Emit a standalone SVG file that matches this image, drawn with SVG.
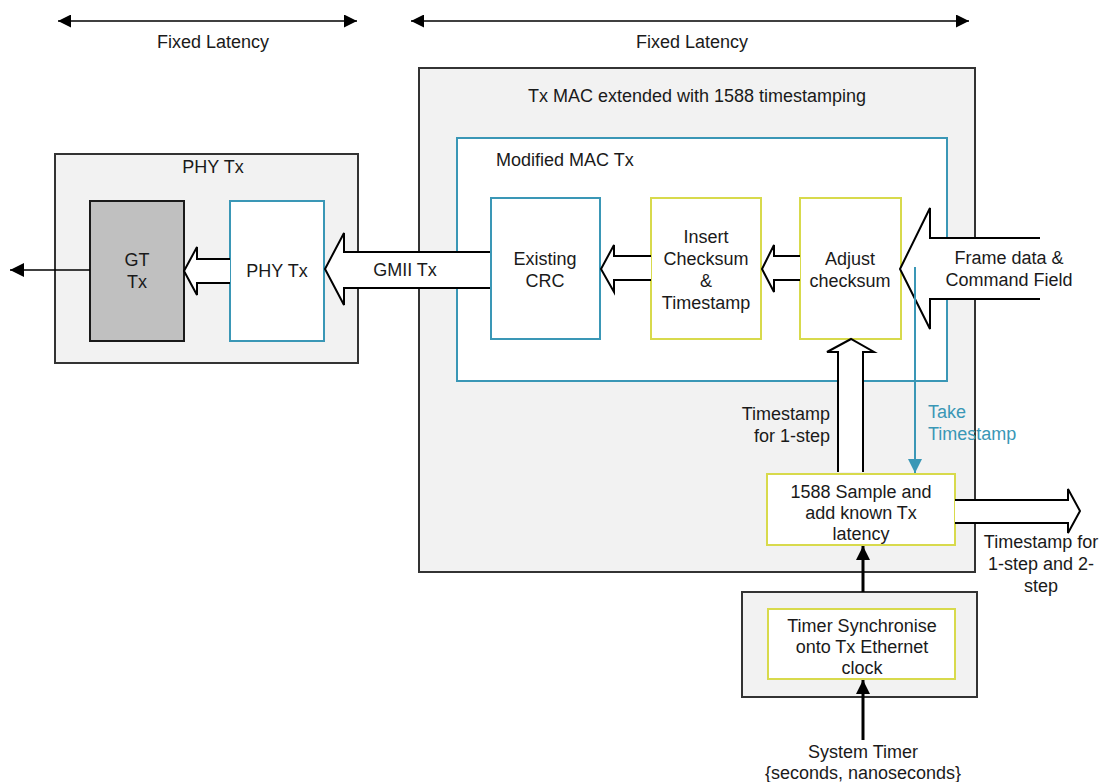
<svg xmlns="http://www.w3.org/2000/svg" width="1102" height="782" viewBox="0 0 1102 782">
<style>
text{font-family:"Liberation Sans",Arial,sans-serif;font-size:18px;fill:#1a1a1a}
.c{text-anchor:middle}
.cont{fill:#f2f2f2;stroke:#333;stroke-width:2}
.teal{fill:#fff;stroke:#3a97b6;stroke-width:2}
.yel{fill:#fff;stroke:#d8da4c;stroke-width:2}
.hollow{fill:#fff;stroke:none}
.hol{fill:none;stroke:#000;stroke-width:2}
.ln{fill:none;stroke:#000;stroke-width:1.5}
.thick{fill:none;stroke:#000;stroke-width:3}
.tl{fill:#3a97b6}
</style>
<defs>
<marker id="ah" viewBox="0 0 10 10" refX="10" refY="5" markerWidth="20" markerHeight="13" markerUnits="userSpaceOnUse" orient="auto-start-reverse"><path d="M0,0 L10,5 L0,10 Z" fill="#000"/></marker>
<marker id="ahs" viewBox="0 0 10 10" refX="10" refY="5" markerWidth="20" markerHeight="14" markerUnits="userSpaceOnUse" orient="auto"><path d="M0,0 L10,5 L0,10 Z" fill="#000"/></marker>
<marker id="aht" viewBox="0 0 10 10" refX="10" refY="5" markerWidth="18" markerHeight="14" markerUnits="userSpaceOnUse" orient="auto"><path d="M0,0 L10,5 L0,10 Z" fill="#3a97b6"/></marker>
</defs>
<g id="latency-left">
<line x1="58" y1="21" x2="357" y2="21" class="ln" marker-start="url(#ah)" marker-end="url(#ah)"/>
<text x="213" y="48" class="c">Fixed Latency</text>
</g>
<g id="latency-right">
<line x1="411" y1="21" x2="969" y2="21" class="ln" marker-start="url(#ah)" marker-end="url(#ah)"/>
<text x="692" y="48" class="c">Fixed Latency</text>
</g>
<g id="tx-mac">
<rect x="419" y="68" width="556" height="504" class="cont"/>
<text x="697" y="102" class="c">Tx MAC extended with 1588 timestamping</text>
</g>
<g id="modified-mac">
<rect x="457" y="138" width="490" height="243" class="teal"/>
<text x="496" y="166">Modified MAC Tx</text>
</g>
<g id="phy-outer">
<rect x="55" y="154" width="303" height="209" class="cont"/>
<text x="213" y="173" class="c">PHY Tx</text>
</g>
<g id="gt-tx">
<rect x="90" y="201" width="94" height="140" fill="#c0c0c0" stroke="#1a1a1a" stroke-width="2"/>
<text x="137" y="266" class="c">GT</text>
<text x="137" y="288" class="c">Tx</text>
</g>
<g id="phy-inner">
<rect x="230" y="201" width="94" height="140" class="teal"/>
<text x="277" y="277" class="c">PHY Tx</text>
</g>
<g id="existing-crc">
<rect x="491" y="198" width="109" height="141" class="teal"/>
<text x="545" y="265" class="c">Existing</text>
<text x="545" y="287" class="c">CRC</text>
</g>
<g id="insert">
<rect x="651" y="198" width="110" height="141" class="yel"/>
<text x="706" y="243" class="c">Insert</text>
<text x="706" y="265" class="c">Checksum</text>
<text x="706" y="287" class="c">&amp;</text>
<text x="706" y="309" class="c">Timestamp</text>
</g>
<g id="adjust">
<rect x="800" y="198" width="101" height="141" class="yel"/>
<text x="850" y="265" class="c">Adjust</text>
<text x="850" y="287" class="c">checksum</text>
</g>
<g id="sample">
<rect x="767" y="474" width="188" height="71" class="yel"/>
<text x="861" y="498" class="c">1588 Sample and</text>
<text x="861" y="519" class="c">add known Tx</text>
<text x="861" y="540" class="c">latency</text>
</g>
<g id="timer-outer">
<rect x="742" y="592" width="235" height="105" class="cont"/>
</g>
<g id="timer-sync">
<rect x="768" y="609" width="187" height="70" class="yel"/>
<text x="862" y="632" class="c">Timer Synchronise</text>
<text x="862" y="653" class="c">onto Tx Ethernet</text>
<text x="862" y="674" class="c">clock</text>
</g>
<g id="connectors">
<line x1="90" y1="270" x2="10" y2="270" class="ln" marker-end="url(#ahs)"/>
<polygon points="230,259 197,259 197,247 184,271 197,295 197,283 230,283" class="hollow"/>
<polyline points="230,259 197,259 197,247 184,271 197,295 197,283 230,283" class="hol"/>
<polygon points="490,252 344,252 344,233 325,269 344,305 344,288 490,288" class="hollow"/>
<polyline points="490,252 344,252 344,233 325,269 344,305 344,288 490,288" class="hol"/>
<text x="405" y="276" class="c">GMII Tx</text>
<polygon points="651,256 614,256 614,245 601,269 614,292 614,280 651,280" class="hollow"/>
<polyline points="651,256 614,256 614,245 601,269 614,292 614,280 651,280" class="hol"/>
<polygon points="800,256 774,256 774,245 762,269 774,292 774,280 800,280" class="hollow"/>
<polyline points="800,256 774,256 774,245 762,269 774,292 774,280 800,280" class="hol"/>
<polygon points="1040,238 930,238 930,208 900,269 930,329 930,299 1040,299" class="hollow"/>
<polyline points="1040,238 930,238 930,208 900,269 930,329 930,299 1040,299" class="hol"/>
<text x="1009" y="264" class="c">Frame data &amp;</text>
<text x="1009" y="286" class="c">Command Field</text>
<polygon points="838,472 838,352 827,352 851,339 874,352 863,352 863,472" class="hollow"/>
<polyline points="838,472 838,352 827,352 851,339 874,352 863,352 863,472" class="hol"/>
<text x="830" y="420" text-anchor="end">Timestamp</text>
<text x="830" y="442" text-anchor="end">for 1-step</text>
<line x1="915" y1="267" x2="915" y2="473" fill="none" stroke="#3a97b6" stroke-width="2" marker-end="url(#aht)"/>
<text x="928" y="418" class="tl">Take</text>
<text x="928" y="440" class="tl">Timestamp</text>
<polygon points="955,500 1068,500 1068,489 1080,511 1068,533 1068,523 955,523" class="hollow"/>
<polyline points="955,500 1068,500 1068,489 1080,511 1068,533 1068,523 955,523" class="hol"/>
<text x="1041" y="548" class="c">Timestamp for</text>
<text x="1041" y="570" class="c">1-step and 2-</text>
<text x="1041" y="592" class="c">step</text>
<line x1="863" y1="592" x2="863" y2="546" class="thick" marker-end="url(#ahs)"/>
<line x1="863" y1="740" x2="863" y2="680" class="thick" marker-end="url(#ahs)"/>
<text x="863" y="758" class="c">System Timer</text>
<text x="863" y="779" class="c">{seconds, nanoseconds}</text>
</g>
</svg>
